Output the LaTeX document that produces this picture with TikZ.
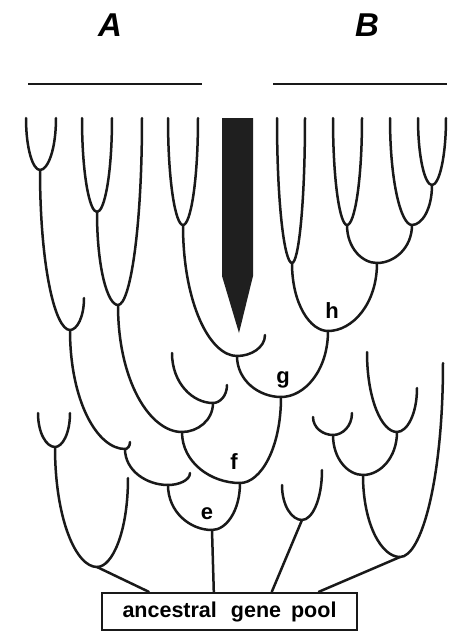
\documentclass[tikz,border=0pt]{standalone}
\usepackage{fontspec}
\setmainfont{Liberation Sans}
\usetikzlibrary{calc}
\newcommand\bowl[3]{\draw[branch] let \p1=(#1),\p2=(#2),\p3=(#3) in
  (\p1) .. controls (\x1,{0.4*\y1+0.6*\y2}) and ({0.5*\x1+0.5*\x2},\y2) .. (\p2)
  .. controls ({0.5*\x3+0.5*\x2},\y2) and (\x3,{0.4*\y3+0.6*\y2}) .. (\p3);}
\begin{document}
\begin{tikzpicture}[x=1pt,y=-1pt,
  branch/.style={draw=black!90,line width=2.5pt,line cap=round},
  bar/.style={draw=black!90,line width=2.4pt},
  lbl/.style={anchor=base,font=\bfseries\fontsize{22}{26}\selectfont},
  big/.style={anchor=base,font=\bfseries\itshape\fontsize{33}{38}\selectfont}]
\useasboundingbox (0,0) rectangle (448,633);
% headings
\node[big] (hA) at (110,36) {A};
\node[big] (hB) at (367,36) {B};
\coordinate (A1) at (28,84); \coordinate (A2) at (202,84);
\coordinate (B1) at (273,84); \coordinate (B2) at (447,84);
\draw[bar] (A1) -- (A2);
\draw[bar] (B1) -- (B2);
% tips
\coordinate (t1) at (26,118);  \coordinate (t2) at (56,118);
\coordinate (t3) at (82,118);  \coordinate (t4) at (112,118);
\coordinate (t5) at (142,118); \coordinate (t6) at (168,118);
\coordinate (t7) at (198,118);
\coordinate (t8) at (277,118); \coordinate (t9) at (305,118);
\coordinate (t10) at (333,118); \coordinate (t11) at (362,118);
\coordinate (t12) at (390,118); \coordinate (t13) at (418,118);
\coordinate (t14) at (446,118);
% forks
\coordinate (a1) at (40,170);
\coordinate (a2) at (97,212);
\coordinate (a3) at (118,305);
\coordinate (a4) at (183,225);
\coordinate (a5) at (70,330);   \coordinate (a5t) at (84,298);
\coordinate (a6) at (125,449);  \coordinate (a6t) at (130,442);
\coordinate (a7a) at (172,353); \coordinate (a7) at (213,403); \coordinate (a7b) at (227,385);
\coordinate (a8) at (182,432);
\coordinate (a9) at (237,356);  \coordinate (a9t) at (265,335);
\coordinate (a10) at (168,485); \coordinate (a10t) at (190,473);
\coordinate (b1) at (292,263);
\coordinate (b2) at (347,225);
\coordinate (b3) at (432,185);
\coordinate (b4) at (412,225);
\coordinate (b5) at (377,263);
\coordinate (h) at (328,331);
\coordinate (g) at (281,397);
\coordinate (f) at (240,483);
\coordinate (e) at (212,530);
\coordinate (c1a) at (38,413); \coordinate (c1) at (55,447); \coordinate (c1b) at (70,413);
\coordinate (c2) at (97,567);  \coordinate (c2t) at (128,478);
\coordinate (d1a) at (282,485); \coordinate (d1) at (302,520); \coordinate (d1b) at (322,470);
\coordinate (d2a) at (313,417); \coordinate (d2) at (333,435); \coordinate (d2b) at (352,413);
\coordinate (d3a) at (367,352); \coordinate (d3) at (397,432); \coordinate (d3b) at (417,388);
\coordinate (d4) at (363,475);
\coordinate (d5) at (400,557);  \coordinate (d5t) at (443,363);
% wedge
\fill[black!88] (222,118) -- (253,118) -- (253,276) -- (239,333) -- (222,276) -- cycle;
% A clade
\bowl{t1}{a1}{t2}
\bowl{t3}{a2}{t4}
\bowl{a2}{a3}{t5}
\bowl{t6}{a4}{t7}
\bowl{a1}{a5}{a5t}
\bowl{a5}{a6}{a6t}
\bowl{a7a}{a7}{a7b}
\bowl{a3}{a8}{a7}
\bowl{a4}{a9}{a9t}
\bowl{a6}{a10}{a10t}
% B clade
\bowl{t8}{b1}{t9}
\bowl{t10}{b2}{t11}
\bowl{t13}{b3}{t14}
\bowl{t12}{b4}{b3}
\bowl{b2}{b5}{b4}
\bowl{b1}{h}{b5}
% lower joins
\bowl{a9}{g}{h}
\bowl{a8}{f}{g}
\bowl{a10}{e}{f}
% left-bottom
\bowl{c1a}{c1}{c1b}
\bowl{c1}{c2}{c2t}
% right-bottom
\bowl{d1a}{d1}{d1b}
\bowl{d2a}{d2}{d2b}
\bowl{d3a}{d3}{d3b}
\bowl{d2}{d4}{d3}
\bowl{d4}{d5}{d5t}
% labels
\node[lbl] (le) at (207,519) {e};
\node[lbl] (lf) at (234,469) {f};
\node[lbl] (lg) at (283,383) {g};
\node[lbl] (lh) at (332,318) {h};
% ancestral gene pool
\node[draw=black!90,line width=2.4pt,minimum width=255pt,minimum height=37pt,inner sep=0pt,
  font=\bfseries\fontsize{21.5}{25}\selectfont] (pool) at (229.5,611.5)
  {ancestral\hspace{14pt}gene\hspace{10pt}pool};
\draw[branch] (c2) -- ([xshift=48pt]pool.north west);
\draw[branch] (e) -- ([xshift=113pt]pool.north west);
\draw[branch] (d1) -- ([xshift=171pt]pool.north west);
\draw[branch] (d5) -- ([xshift=218pt]pool.north west);
\end{tikzpicture}
\end{document}
